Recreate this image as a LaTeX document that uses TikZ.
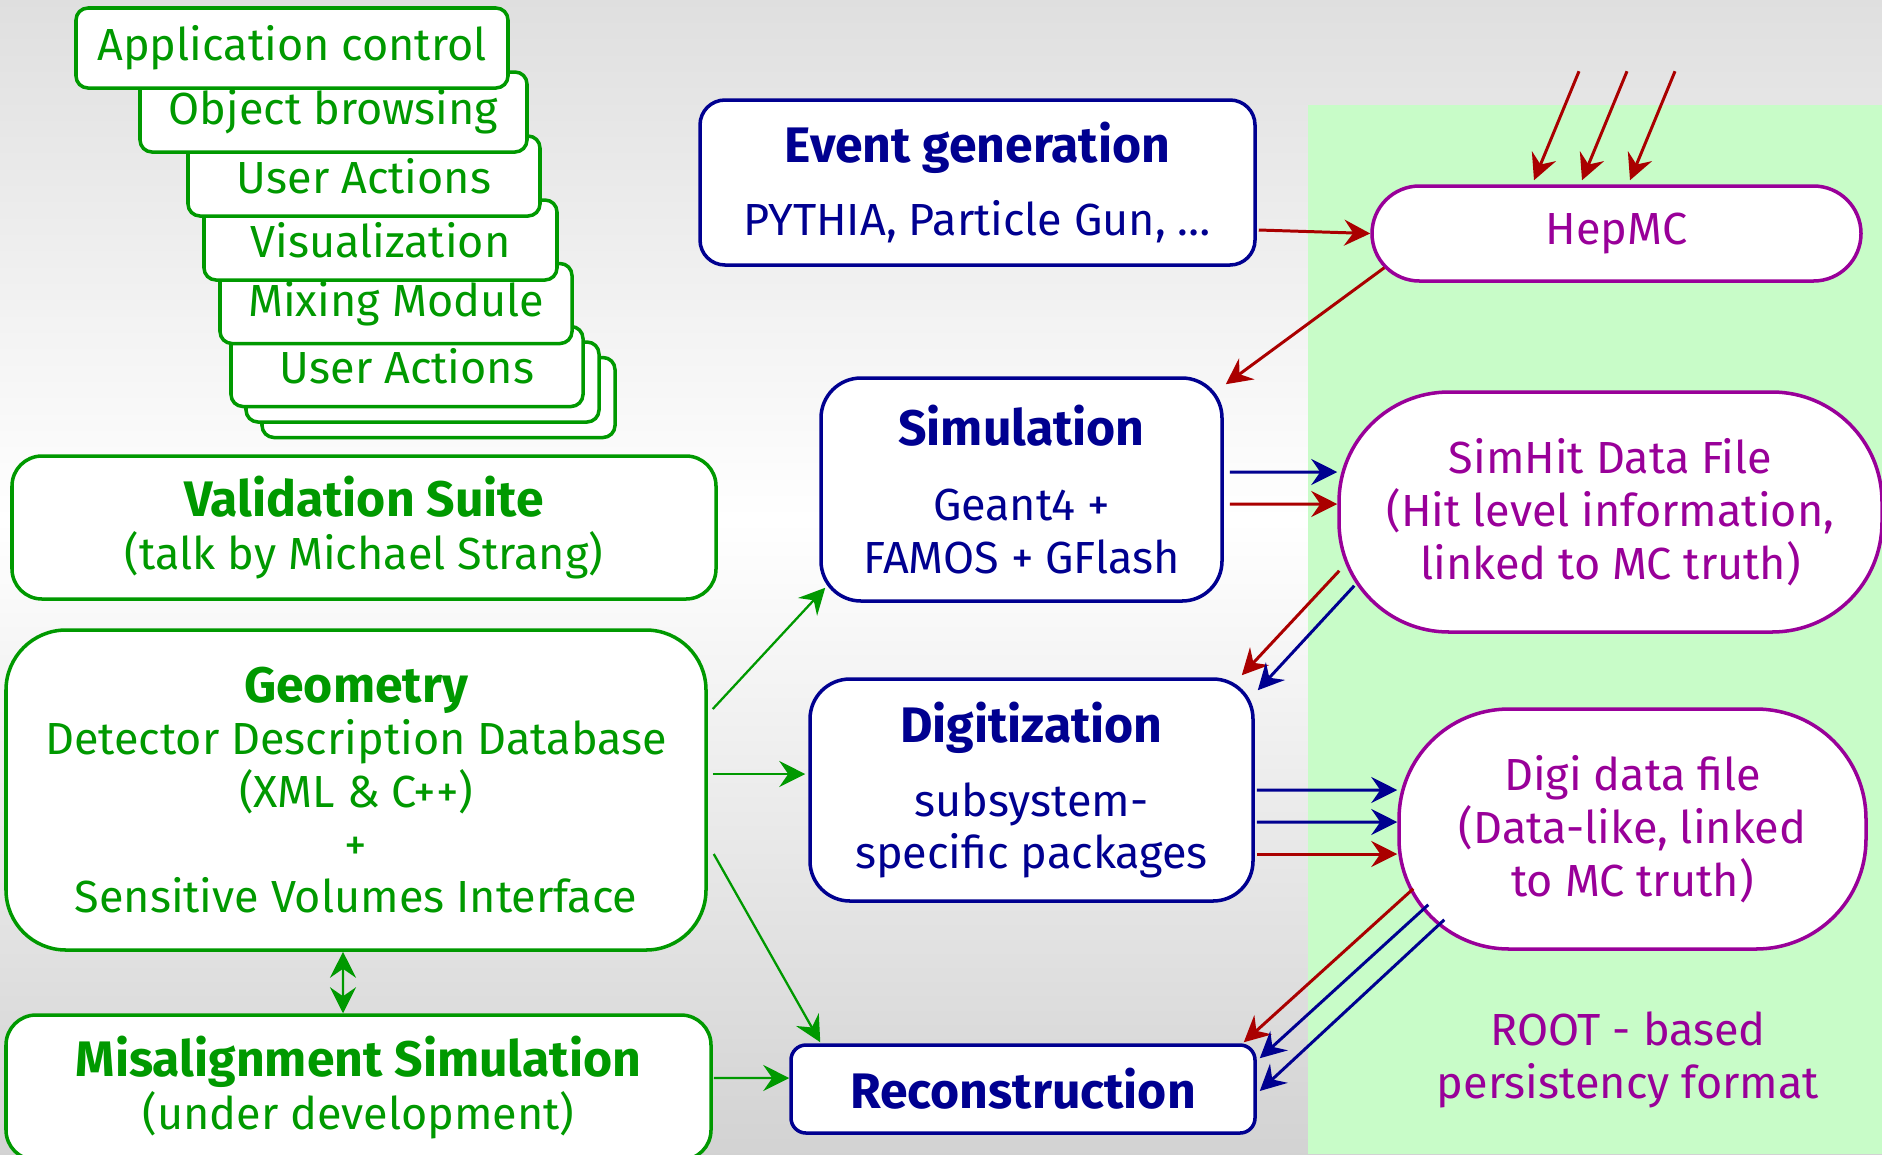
\documentclass[tikz,border=0pt]{standalone}
\usepackage{fontspec}
\setmainfont{Fira Sans}
\usetikzlibrary{arrows.meta}

\definecolor{cgreen}{HTML}{009900}
\definecolor{cblue}{HTML}{000090}
\definecolor{cred}{HTML}{AA0000}
\definecolor{cpurple}{HTML}{990099}
\definecolor{cpanel}{HTML}{C8FCC8}

\newcommand\ttl[1]{{\fontsize{14.2}{17}\selectfont\bfseries #1}}

\tikzset{
  boxbase/.style={draw, fill=white, line width=1pt, align=center, inner sep=0pt,
    font=\fontsize{12.8}{15}\selectfont},
  gbox/.style={boxbase, draw=cgreen, text=cgreen},
  bbox/.style={boxbase, draw=cblue, text=cblue},
  pbox/.style={boxbase, draw=cpurple, text=cpurple, rounded corners=11mm},
  conn/.style={line width=0.85pt, >={Stealth[length=2.6mm,width=2.6mm,inset=0.9mm]}, ->},
  garrow/.style={conn, draw=cgreen, fill=cgreen, line width=0.65pt},
  barrow/.style={conn, draw=cblue, fill=cblue},
  rarrow/.style={conn, draw=cred, fill=cred},
}

\begin{document}
\begin{tikzpicture}[x=1cm,y=-1cm]

\useasboundingbox (0,0) rectangle (18.82,11.54);

% background
\shade[top color=gray!25, bottom color=white] (0,0) rectangle (18.82,5.2);
\shade[top color=white, bottom color=gray!35] (0,5.2) rectangle (18.82,11.54);
\fill[cpanel] (13.08,1.05) rectangle (18.82,11.54);

% stack of modules (back to front)
\foreach \n/\cx/\cy/\w/\txt in {8/4.385/3.975/3.53/{},
                                7/4.225/3.82/3.53/{},
                                6/4.07/3.665/3.52/User Actions,
                                5/3.96/3.035/3.52/Mixing Module,
                                4/3.805/2.40/3.53/Visualization,
                                3/3.64/1.76/3.52/User Actions,
                                2/3.335/1.12/3.87/Object browsing,
                                1/2.92/0.48/4.32/Application control}{%
  \node[gbox, rounded corners=1.2mm, minimum width=\w cm, minimum height=0.8cm] (s\n) at (\cx,\cy) {\txt};
}

% left column
\node[gbox, rounded corners=3mm, minimum width=7.04cm, minimum height=1.43cm] (valid) at (3.64,5.275)
  {\ttl{Validation Suite}\\ (talk by Michael Strang)};
\node[gbox, rounded corners=6mm, minimum width=7.0cm, minimum height=3.2cm] (geom) at (3.56,7.90)
  {\ttl{Geometry}\\ Detector Description Database\\ (XML \& C++)\\ +\\ Sensitive Volumes Interface};
\node[gbox, rounded corners=3mm, minimum width=7.05cm, minimum height=1.45cm] (misal) at (3.585,10.875)
  {\ttl{Misalignment Simulation}\\ (under development)};

% processing steps
\node[bbox, rounded corners=2.5mm, minimum width=5.55cm, minimum height=1.65cm] (evgen) at (9.775,1.825)
  {\ttl{Event generation}\\[5.5pt] PYTHIA, Particle Gun, \dots};
\node[bbox, rounded corners=4mm, minimum width=4.01cm, minimum height=2.23cm] (sim) at (10.215,4.895)
  {\ttl{Simulation}\\[6.5pt] Geant4 +\\ FAMOS + GFlash};
\node[bbox, rounded corners=4mm, minimum width=4.43cm, minimum height=2.22cm] (digit) at (10.315,7.90)
  {\ttl{Digitization}\\[6pt] subsystem-\\ specific packages};
\node[bbox, rounded corners=1.5mm, minimum width=4.64cm, minimum height=0.88cm] (reco) at (10.23,10.89)
  {\ttl{Reconstruction}};

% data files
\node[pbox, rounded corners=4.75mm, minimum width=4.89cm, minimum height=0.95cm] (hepmc) at (16.165,2.335) {HepMC};
\node[pbox, minimum width=5.43cm, minimum height=2.4cm] (simhit) at (16.105,5.12)
  {SimHit Data File\\ (Hit level information,\\ linked to MC truth)};
\node[pbox, minimum width=4.67cm, minimum height=2.4cm] (digi) at (16.325,8.29)
  {Digi data file\\ (Data-like, linked\\ to MC truth)};
\node[text=cpurple, align=center, inner sep=0pt, font=\fontsize{12.8}{15}\selectfont] (root) at (16.28,10.60)
  {ROOT - based\\ persistency format};

% inputs to HepMC
\foreach \i/\dx in {1/-8.25,2/-3.45,3/1.35}{%
  \coordinate (src\i) at ([xshift=\dx mm+4.5mm, yshift=11.3mm]hepmc.north);
  \draw[rarrow] (src\i) -- ([xshift=\dx mm, yshift=.4mm]hepmc.north);
}

% red/blue data flow
\draw[rarrow] ([xshift=.2mm, yshift=-4.75mm]evgen.east) -- (hepmc.west);
\draw[rarrow] ([xshift=1.4mm, yshift=1.5mm]hepmc.south west) -- ([xshift=.2mm, yshift=-.8mm]sim.north east);

\draw[barrow] ([xshift=.6mm, yshift=1.75mm]sim.east) -- ([yshift=4mm]simhit.west);
\draw[rarrow] ([xshift=.6mm, yshift=-1.45mm]sim.east) -- ([yshift=.8mm]simhit.west);

\draw[rarrow] ([xshift=.2mm, yshift=6.3mm]simhit.south west) -- ([xshift=-1.3mm, yshift=.2mm]digit.north east);
\draw[barrow] ([xshift=1.7mm, yshift=4.8mm]simhit.south west) -- ([xshift=.3mm, yshift=-1.3mm]digit.north east);

\draw[barrow] ([xshift=.2mm]digit.east) -- ([yshift=3.9mm]digi.west);
\draw[barrow] ([xshift=.2mm, yshift=-3.2mm]digit.east) -- ([yshift=.7mm]digi.west);
\draw[rarrow] ([xshift=.2mm, yshift=-6.4mm]digit.east) -- ([yshift=-2.5mm]digi.west);

\draw[rarrow] ([xshift=1.6mm, yshift=6.2mm]digi.south west) -- ([xshift=-1.3mm, yshift=.1mm]reco.north east);
\draw[barrow] ([xshift=3.1mm, yshift=4.6mm]digi.south west) -- ([xshift=.3mm, yshift=-1.5mm]reco.north east);
\draw[barrow] ([xshift=4.7mm, yshift=3.1mm]digi.south west) -- ([xshift=.3mm, yshift=-.2mm]reco.east);

% geometry feeds
\draw[garrow] ([xshift=.5mm, yshift=8.1mm]geom.east) -- ([xshift=.6mm, yshift=1.5mm]sim.south west);
\draw[garrow] ([xshift=.5mm, yshift=1.6mm]geom.east) -- ([xshift=-.3mm, yshift=1.6mm]digit.west);
\draw[garrow] ([xshift=.6mm, yshift=-6.4mm]geom.east) -- ([xshift=3.1mm, yshift=.1mm]reco.north west);
\draw[garrow] ([xshift=.1mm, yshift=.95mm]misal.east) -- ([yshift=1.1mm]reco.west);
\draw[garrow, <->] ([xshift=-1.3mm]geom.south) -- ([xshift=-1.55mm]misal.north);

\end{tikzpicture}
\end{document}
